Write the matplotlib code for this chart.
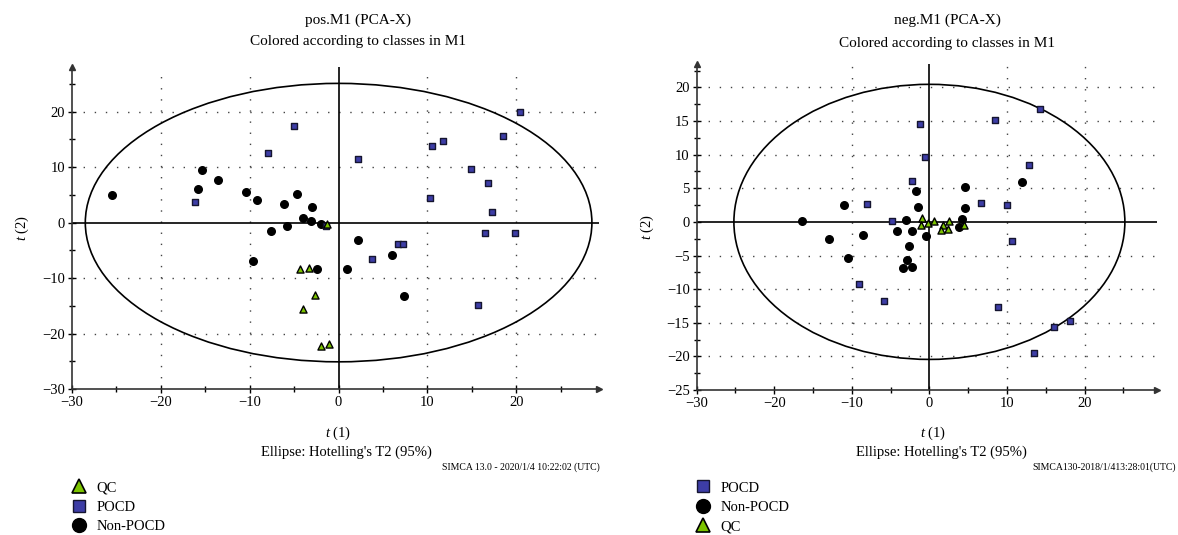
import matplotlib
matplotlib.use("Agg")
import matplotlib.pyplot as plt
from matplotlib.patches import Ellipse
from matplotlib.lines import Line2D
from matplotlib.ticker import MultipleLocator

plt.rcParams['font.family'] = ['Liberation Serif', 'DejaVu Serif']
plt.rcParams['mathtext.fontset'] = 'custom'
plt.rcParams['mathtext.rm'] = 'Liberation Serif'
plt.rcParams['mathtext.it'] = 'Liberation Serif:italic'

# ---- pos.M1 scores ----
pos_pocd_t1 = [-16.2, -8.0, -5.0, -1.4, 2.2, 10.5, 11.8, 20.4, 18.5, 14.9,
               16.8, 10.3, 17.3, 16.5, 19.9, 6.7, 7.2, 3.8, 15.7]
pos_pocd_t2 = [3.8, 12.6, 17.5, -0.6, 11.4, 13.9, 14.7, 19.9, 15.6, 9.7,
               7.2, 4.4, 1.9, -1.9, -1.9, -3.9, -3.8, -6.5, -14.8]
pos_non_t1 = [-25.5, -15.8, -15.4, -13.6, -10.4, -9.2, -7.6, -5.8, -6.1, -4.7,
              -4.0, -3.0, -3.1, -2.0, -9.6, -2.4, 0.9, 2.2, 6.0, 7.4]
pos_non_t2 = [4.9, 6.1, 9.5, 7.7, 5.5, 4.0, -1.5, -0.7, 3.3, 5.2,
              0.8, 2.8, 0.2, -0.3, -6.9, -8.4, -8.3, -3.1, -5.9, -13.2]
pos_qc_t1 = [-1.3, -4.3, -3.3, -2.6, -4.0, -2.0, -1.1]
pos_qc_t2 = [-0.3, -8.4, -8.2, -13.0, -15.5, -22.2, -21.8]
pos_ellipse = (28.5, 25.1)

# ---- neg.M1 scores ----
neg_pocd_t1 = [-8.1, -4.8, -1.2, -0.55, -2.2, 6.6, 10.0, 10.7, 12.8, 8.4,
               14.2, -9.1, -5.9, 8.85, 16.1, 18.1, 13.5]
neg_pocd_t2 = [2.7, 0.1, 14.6, 9.6, 6.1, 2.8, 2.5, -2.9, 8.4, 15.1,
               16.8, -9.2, -11.8, -12.6, -15.6, -14.7, -19.5]
neg_non_t1 = [-16.4, -11.0, -13.0, -10.5, -8.5, -3.0, -4.2, -2.3, -2.6, -2.9,
              -3.4, -2.2, -1.7, -1.5, -0.5, 4.6, 4.6, 4.2, 3.8, 11.9]
neg_non_t2 = [0.15, 2.5, -2.6, -5.4, -2.0, 0.35, -1.3, -1.4, -3.6, -5.6,
              -6.9, -6.7, 4.6, 2.2, -2.1, 5.2, 2.1, 0.4, -0.7, 6.0]
neg_qc_t1 = [-0.9, -1.1, -0.2, 0.6, 1.8, 1.55, 2.4, 2.5, 4.4]
neg_qc_t2 = [0.6, -0.4, -0.15, 0.15, -0.5, -1.2, -1.1, 0.1, -0.5]
neg_ellipse = (25.2, 20.45)

blue = '#3d3da6'
green = '#7cc400'

fig = plt.figure(figsize=(11.78, 5.35), dpi=100)
ax1 = fig.add_axes([0.0611, 0.2729, 0.4474, 0.6013])
ax2 = fig.add_axes([0.5914, 0.2710, 0.3905, 0.6097])


def draw_panel(ax, pocd, non, qc, ell, xlim, ylim, ymaj, ymin, xgrid, ygrid):
    ax.set_xlim(*xlim)
    ax.set_ylim(*ylim)
    for g in xgrid:
        ax.axvline(g, color='#444444', lw=1.0, ls=(0, (1, 7)), zorder=1)
    for g in ygrid:
        ax.axhline(g, color='#444444', lw=1.0, ls=(0, (1, 7)), zorder=1)
    ax.axvline(0, color='black', lw=1.2, zorder=2)
    ax.axhline(0, color='black', lw=1.2, zorder=2)
    ax.add_patch(Ellipse((0, 0), 2 * ell[0], 2 * ell[1], fill=False,
                         ec='black', lw=1.2, zorder=2))
    ax.scatter(non[0], non[1], s=30, marker='o', c='black', zorder=3)
    ax.scatter(pocd[0], pocd[1], s=24, marker='s', c=blue,
               edgecolors='#151530', linewidths=1.0, zorder=4)
    ax.scatter(qc[0], qc[1], s=26, marker='^', c=green,
               edgecolors='black', linewidths=1.0, zorder=5)
    ax.spines['top'].set_visible(False)
    ax.spines['right'].set_visible(False)
    for sp in ('left', 'bottom'):
        ax.spines[sp].set_linewidth(1.2)
        ax.spines[sp].set_color('#333333')
    ax.xaxis.set_major_locator(MultipleLocator(10))
    ax.xaxis.set_minor_locator(MultipleLocator(5))
    ax.yaxis.set_major_locator(MultipleLocator(ymaj))
    ax.yaxis.set_minor_locator(MultipleLocator(ymin))
    ax.set_xticks([t for t in ax.get_xticks() if xlim[0] <= t <= xlim[1] - 5])
    ax.tick_params(which='major', direction='inout', length=6, width=1.0,
                   labelsize=10.5, pad=2)
    ax.tick_params(which='minor', direction='inout', length=4, width=1.0)
    ax.plot(0, 1, marker='^', color='#333333', ms=5, transform=ax.transAxes,
            clip_on=False)
    ax.plot(1, 0, marker='>', color='#333333', ms=5, transform=ax.transAxes,
            clip_on=False)
    ax.set_ylabel('$t$ (2)', fontsize=10.5, labelpad=8)


draw_panel(ax1, (pos_pocd_t1, pos_pocd_t2), (pos_non_t1, pos_non_t2),
           (pos_qc_t1, pos_qc_t2), pos_ellipse, (-30, 29.3), (-30, 28),
           10, 5, [-20, -10, 10, 20], [-20, -10, 10, 20])
draw_panel(ax2, (neg_pocd_t1, neg_pocd_t2), (neg_non_t1, neg_non_t2),
           (neg_qc_t1, neg_qc_t2), neg_ellipse, (-30, 29.3), (-25, 23.5),
           5, 2.5, [-10, 10, 20], [-20, -15, -10, -5, 5, 10, 15, 20])
ax2.set_yticks([-25, -20, -15, -10, -5, 0, 5, 10, 15, 20])

W, H = 1178.0, 535.0


def ft(x, y, s, **kw):
    fig.text(x / W, 1 - y / H, s, **kw)


# titles
ft(358, 20, 'pos.M1 (PCA-X)', ha='center', va='center', fontsize=11)
ft(358, 41, 'Colored according to classes in M1', ha='center', va='center', fontsize=11)
ft(947, 20, 'neg.M1 (PCA-X)', ha='center', va='center', fontsize=11)
ft(947, 43, 'Colored according to classes in M1', ha='center', va='center', fontsize=11)

# x labels and footers
for xc, foot, xr in [(338, 'SIMCA 13.0 - 2020/1/4 10:22:02 (UTC)', 600),
                     (933, 'SIMCA130-2018/1/413:28:01(UTC)', 1176)]:
    ft(xc, 433, '$t$ (1)', ha='center', va='center', fontsize=10.5)
    ft(xc + 8, 452, "Ellipse: Hotelling's T2 (95%)", ha='center', va='center', fontsize=10.5)
    ft(xr, 467, foot, ha='right', va='center', fontsize=7)

h_qc = Line2D([], [], ls='none', marker='^', ms=10, mfc=green, mec='black', mew=1.2)
h_pocd = Line2D([], [], ls='none', marker='s', ms=9, mfc=blue, mec='#151530', mew=1.0)
h_non = Line2D([], [], ls='none', marker='o', ms=10, mfc='black', mec='black')

leg_kw = dict(loc='upper left', frameon=False, fontsize=10.5, handletextpad=0.6,
              labelspacing=0.42, borderpad=0, handlelength=1.2,
              bbox_transform=fig.transFigure)
fig.legend([h_qc, h_pocd, h_non], ['QC', 'POCD', 'Non-POCD'],
           bbox_to_anchor=(63 / W, 1 - 474 / H), **leg_kw)
fig.legend([h_pocd, h_non, h_qc], ['POCD', 'Non-POCD', 'QC'],
           bbox_to_anchor=(687 / W, 1 - 474 / H), **leg_kw)

fig.savefig('out.png', dpi=100)
